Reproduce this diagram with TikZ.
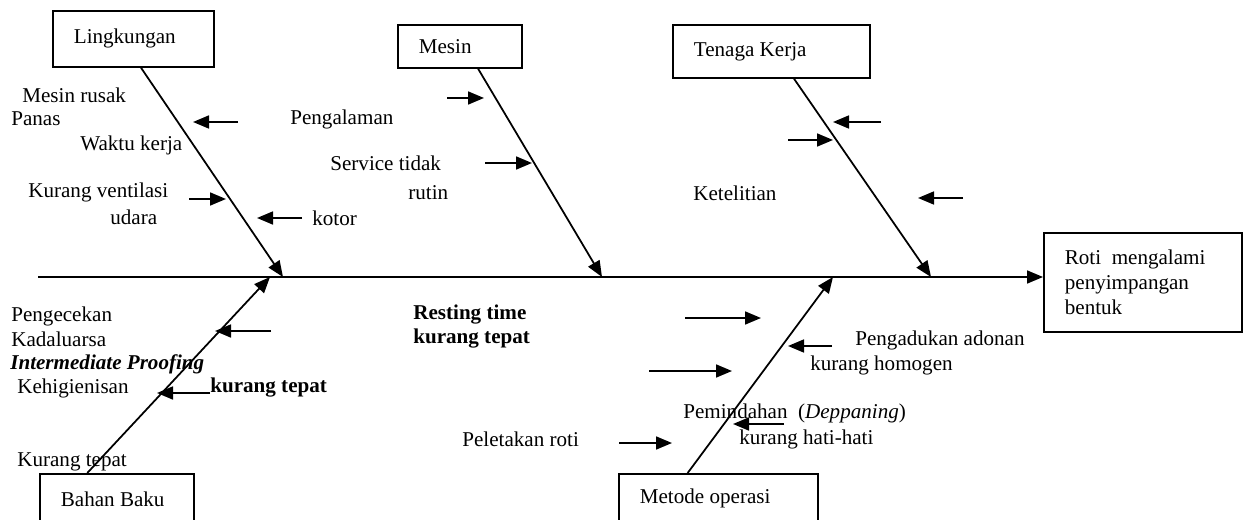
\documentclass[tikz,border=0pt]{standalone}
\usepackage{fontspec}
\setmainfont{Liberation Serif}
\usepackage{tikz}
\usetikzlibrary{arrows.meta,positioning,calc}
\tikzset{
  causebox/.style={
    rectangle, draw, line width=1pt,
    anchor=north west, align=flush left,
    inner xsep=0.42cm, inner ysep=0pt,
    text width=#1
  },
  bonearrow/.style={
    -{Triangle[length=0.32cm, width=0.26cm]}, line width=1pt
  },
  subarrow/.style={
    -{Triangle[length=0.32cm, width=0.26cm]}, line width=1pt
  },
  causelabel/.style={
    anchor=west, inner sep=0pt, align=left
  },
}

\begin{document}
\begin{tikzpicture}[x=0.02cm, y=-0.02cm,
  font=\fontsize{12pt}{14pt}\selectfont]
  \useasboundingbox (0,0) rectangle (1243,520);

  % Boxes
  \node[causebox=2.38cm, minimum height=1.12cm] (lingk) at (52,10) {Lingkungan};
  \node[causebox=1.64cm, minimum height=0.86cm] (mesin) at (397,24) {Mesin};
  \node[causebox=3.10cm, minimum height=1.06cm] (tenaga) at (672,24) {Tenaga Kerja};
  \node[causebox=2.24cm, minimum height=1.0cm] (bahan) at (39,473) {Bahan Baku};
  \node[causebox=3.14cm, minimum height=1.0cm] (metode) at (618,473) {Metode operasi};
  \node[causebox=3.12cm, minimum height=1.98cm] (effect) at (1043,232)
    {Roti\ \ mengalami\\penyimpangan\\bentuk};

  % Spine
  \coordinate (tail) at (38,277);
  \coordinate (j1) at (283,277);
  \coordinate (j2) at (602,277);
  \coordinate (j3) at (931,277);
  \coordinate (j4) at (270,277);
  \coordinate (j5) at (833,277);
  \draw[bonearrow] (tail) -- (tail -| effect.west);

  % Bones
  \draw[bonearrow] ($(lingk.south west)!0.547!(lingk.south east)$) -- (j1);
  \draw[bonearrow] ($(mesin.south west)!0.645!(mesin.south east)$) -- (j2);
  \draw[bonearrow] ($(tenaga.south west)!0.614!(tenaga.south east)$) -- (j3);
  \draw[bonearrow] ($(bahan.north west)!0.31!(bahan.north east)$) -- (j4);
  \draw[bonearrow] ($(metode.north west)!0.347!(metode.north east)$) -- (j5);

  % Lingkungan
  \coordinate (a1) at (238,122); \coordinate (b1) at (193,122);
  \coordinate (a2) at (189,199); \coordinate (b2) at (226,199);
  \coordinate (a3) at (302,218); \coordinate (b3) at (257,218);
  \draw[subarrow] (a1) -- (b1);
  \draw[subarrow] (a2) -- (b2);
  \draw[subarrow] (a3) -- (b3);
  \node[causelabel] (rusak) at (22,95) {Mesin rusak};
  \node[causelabel] (panas) at (11,119) {Panas};
  \node[causelabel] (waktu) at (80,145) {Waktu kerja};
  \node[causelabel] (venti) at (28,192) {Kurang ventilasi};
  \node[causelabel] (udara) at (110,217) {udara};
  \node[causelabel] (kotor) at (312,218) {kotor};

  % Mesin
  \coordinate (a4) at (447,98); \coordinate (b4) at (484,98);
  \coordinate (a5) at (485,163); \coordinate (b5) at (532,163);
  \draw[subarrow] (a4) -- (b4);
  \draw[subarrow] (a5) -- (b5);
  \node[causelabel] (pengal) at (290,119) {Pengalaman};
  \node[causelabel] (service) at (330,163) {Service tidak};
  \node[causelabel] (rutin) at (408,193) {rutin};

  % Tenaga Kerja
  \coordinate (a6) at (881,122); \coordinate (b6) at (833,122);
  \coordinate (a7) at (788,140); \coordinate (b7) at (833,140);
  \coordinate (a8) at (963,198); \coordinate (b8) at (918,198);
  \draw[subarrow] (a6) -- (b6);
  \draw[subarrow] (a7) -- (b7);
  \draw[subarrow] (a8) -- (b8);
  \node[causelabel] (teliti) at (693,193) {Ketelitian};

  % Bahan Baku
  \coordinate (a9) at (271,331); \coordinate (b9) at (215,331);
  \coordinate (a10) at (210,393); \coordinate (b10) at (157,393);
  \draw[subarrow] (a9) -- (b9);
  \draw[subarrow] (a10) -- (b10);
  \node[causelabel] (cek) at (11,326.5) {Pengecekan\\Kadaluarsa};
  \node[causelabel] (proof) at (10,364) {\textbf{\textit{Intermediate Proofing}}};
  \node[causelabel] (higien) at (17,388) {Kehigienisan};
  \node[causelabel] (tepat1) at (210,388) {\textbf{kurang tepat}};
  \node[causelabel] (tepat2) at (17,462) {Kurang tepat};

  % Metode operasi
  \coordinate (a11) at (685,318); \coordinate (b11) at (761,318);
  \coordinate (a12) at (832,346); \coordinate (b12) at (788,346);
  \coordinate (a13) at (649,371); \coordinate (b13) at (732,371);
  \coordinate (a14) at (784,424); \coordinate (b14) at (733,424);
  \coordinate (a15) at (619,443); \coordinate (b15) at (672,443);
  \draw[subarrow] (a11) -- (b11);
  \draw[subarrow] (a12) -- (b12);
  \draw[subarrow] (a13) -- (b13);
  \draw[subarrow] (a14) -- (b14);
  \draw[subarrow] (a15) -- (b15);
  \node[causelabel] (resting) at (413,326.5) {\textbf{Resting time}\\\textbf{kurang tepat}};
  \node[causelabel] (aduk) at (855,340) {Pengadukan adonan};
  \node[causelabel] (homogen) at (810,365) {kurang homogen};
  \node[causelabel] (pindah) at (683,413) {Pemindahan\ \ (\textit{Deppaning})};
  \node[causelabel] (hati) at (739,439) {kurang hati-hati};
  \node[causelabel] (letak) at (462,439) {Peletakan roti};
\end{tikzpicture}
\end{document}
